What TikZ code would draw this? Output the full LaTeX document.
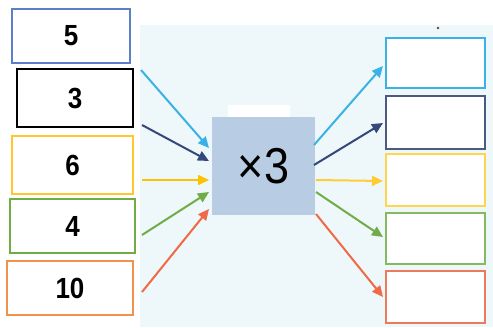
\documentclass[tikz,border=0pt]{standalone}
\usepackage{fontspec}
\setmainfont{Liberation Sans}
\usetikzlibrary{arrows.meta}
\definecolor{bgc}{HTML}{EEF7F9}
\definecolor{ctrfill}{HTML}{B8CCE4}
\definecolor{bluebox}{HTML}{5B7FC8}
\definecolor{yelbox}{HTML}{FFC72C}
\definecolor{grnbox}{HTML}{70AD47}
\definecolor{orgbox}{HTML}{F0924C}
\definecolor{cyanc}{HTML}{3BB2E6}
\definecolor{navyc}{HTML}{34497A}
\definecolor{navybox}{HTML}{4A5A80}
\definecolor{yelc}{HTML}{FFC000}
\definecolor{yelbox2}{HTML}{FFD54F}
\definecolor{grnc}{HTML}{70AD47}
\definecolor{grnbox2}{HTML}{84BB62}
\definecolor{redc}{HTML}{EF6A45}
\definecolor{redbox}{HTML}{EE7A5E}
\tikzset{
  numbox/.style={draw, line width=2pt, fill=white, inner sep=0pt, font=\bfseries\fontsize{26}{28}\selectfont},
  ansbox/.style={draw, line width=2pt, fill=white, inner sep=0pt, minimum width=99pt},
  arr/.style={line width=2pt, -{Triangle[length=11pt,width=10pt]}},
}
\newcommand{\tallnum}[1]{\scalebox{1}[1.12]{#1}}
\begin{document}
\begin{tikzpicture}[x=1pt,y=-1pt]
\useasboundingbox (0,0) rectangle (493,327);
\fill[white] (0,0) rectangle (493,327);
\fill[bgc] (140,25) rectangle (493,327);
% left boxes
\node[numbox, draw=bluebox, minimum width=118pt, minimum height=54pt] (n5) at (71,36) {\tallnum{5}};
\node[numbox, draw=black, minimum width=116pt, minimum height=58pt] (n3) at (75,98) {\tallnum{3}};
\node[numbox, draw=yelbox, minimum width=121pt, minimum height=58pt] (n6) at (72.5,165) {\tallnum{6}};
\node[numbox, draw=grnbox, minimum width=125pt, minimum height=54pt] (n4) at (72.5,226) {\tallnum{4}};
\node[numbox, draw=orgbox, minimum width=126pt, minimum height=54pt] (n10) at (70,288) {\tallnum{10}};
% center
\fill[white] (228,105) rectangle (290,117);
\node[fill=ctrfill, minimum width=103pt, minimum height=98pt, inner sep=0pt, font=\fontsize{45}{48}\selectfont] (c) at (263.5,166) {\raisebox{-2pt}{\scalebox{1}[1.12]{×3}}};
% right boxes
\node[ansbox, draw=cyanc, minimum height=50pt] (r1) at (435.5,63) {};
\node[ansbox, draw=navybox, minimum height=53pt] (r2) at (435.5,122.5) {};
\node[ansbox, draw=yelbox2, minimum height=52pt] (r3) at (435.5,180) {};
\node[ansbox, draw=grnbox2, minimum height=51pt] (r4) at (435.5,238.5) {};
\node[ansbox, draw=redbox, minimum height=52pt] (r5) at (435.5,297) {};
\fill[black!70] (438,28) circle (1.3pt);
% arrow end points
\coordinate (l1s) at (141,70);  \coordinate (l1e) at (209,148);
\coordinate (l2s) at (142,125); \coordinate (l2e) at (209,161);
\coordinate (l3s) at (142,180); \coordinate (l3e) at (209,180);
\coordinate (l4s) at (142,235); \coordinate (l4e) at (209,192);
\coordinate (l5s) at (142,292); \coordinate (l5e) at (209,209);
\coordinate (q1s) at (314,145); \coordinate (q1e) at (383,66);
\coordinate (q2s) at (314,165); \coordinate (q2e) at (383,123);
\coordinate (q3s) at (316,180); \coordinate (q3e) at (383,181);
\coordinate (q4s) at (316,192); \coordinate (q4e) at (383,237);
\coordinate (q5s) at (316,214); \coordinate (q5e) at (383,297);
\draw[arr, cyanc] (l1s) -- (l1e);
\draw[arr, navyc] (l2s) -- (l2e);
\draw[arr, yelc] (l3s) -- (l3e);
\draw[arr, grnc] (l4s) -- (l4e);
\draw[arr, redc] (l5s) -- (l5e);
\draw[arr, cyanc] (q1s) -- (q1e);
\draw[arr, navyc] (q2s) -- (q2e);
\draw[arr, yelc!80!white] (q3s) -- (q3e);
\draw[arr, grnc] (q4s) -- (q4e);
\draw[arr, redc] (q5s) -- (q5e);
\end{tikzpicture}
\end{document}
